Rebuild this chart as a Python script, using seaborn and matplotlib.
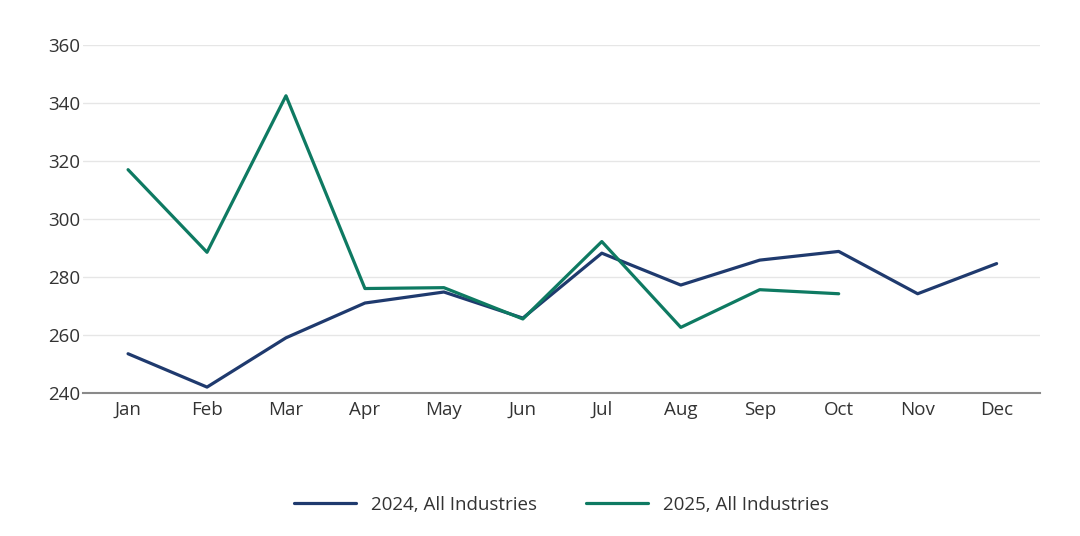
import matplotlib
matplotlib.use("Agg")
import matplotlib.pyplot as plt
import seaborn as sns
import pandas as pd

months = ["Jan", "Feb", "Mar", "Apr", "May", "Jun", "Jul", "Aug", "Sep", "Oct", "Nov", "Dec"]
values_2024 = [253.5, 242, 259, 271, 274.8, 265.8, 288.2, 277.2, 285.8, 288.8, 274.2, 284.6]
values_2025 = [317, 288.5, 342.5, 276, 276.3, 265.5, 292.2, 262.6, 275.6, 274.2]
series_names = ["2024, All Industries", "2025, All Industries"]
colors = ["#1f3a6e", "#0e7a62"]
y_ticks = [240, 260, 280, 300, 320, 340, 360]

rows = []
for m, v in zip(months, values_2024):
    rows.append({"month": m, "value": v, "series": series_names[0]})
for m, v in zip(months, values_2025):
    rows.append({"month": m, "value": v, "series": series_names[1]})
df = pd.DataFrame(rows)
df["x"] = df["month"].map({m: i for i, m in enumerate(months)})

sns.set_theme(style="white")
plt.rcParams["font.family"] = ["Open Sans", "DejaVu Sans"]

fig = plt.figure(figsize=(10.8, 5.36), dpi=100)
ax = fig.add_axes([0.0769, 0.267, 0.963 - 0.0769, 0.916 - 0.267])

sns.lineplot(data=df, x="x", y="value", hue="series", palette=colors,
             hue_order=series_names, linewidth=2.3, ax=ax, legend=True)

ax.set_xlim(-0.57, 11.55)
ax.set_ylim(240, 360)
ax.set_yticks(y_ticks)
ax.set_xticks(range(len(months)))
ax.set_xticklabels(months)
ax.set_xlabel("")
ax.set_ylabel("")
ax.grid(axis="y", color="#e6e6e6", linewidth=1)
ax.set_axisbelow(True)
for s in ["top", "right", "left"]:
    ax.spines[s].set_visible(False)
ax.spines["bottom"].set_color("#8a8a8a")
ax.spines["bottom"].set_linewidth(1.5)
ax.tick_params(axis="both", length=0, labelsize=13.5, labelcolor="#333333")
ax.tick_params(axis="y", pad=2)
ax.tick_params(axis="x", pad=6)

handles, labels = ax.get_legend_handles_labels()
ax.get_legend().remove()
fig.legend(handles, labels, loc="center", bbox_to_anchor=(0.52, 0.058), ncol=2,
           frameon=False, fontsize=13.5, handlelength=3.3, columnspacing=2.6,
           handletextpad=0.8, labelcolor="#333333")

fig.savefig("out.png", dpi=100, facecolor="white")
